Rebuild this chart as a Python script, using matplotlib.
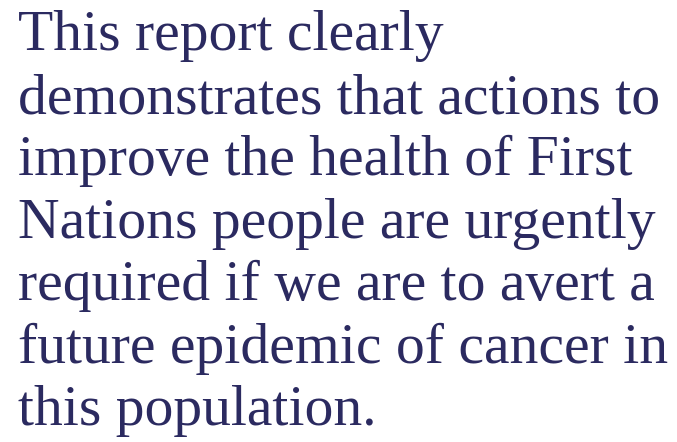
import matplotlib
matplotlib.use("Agg")
import matplotlib.pyplot as plt

lines = [
    "This report clearly",
    "demonstrates that actions to",
    "improve the health of First",
    "Nations people are urgently",
    "required if we are to avert a",
    "future epidemic of cancer in",
    "this population.",
]
baselines = [50, 113, 175, 238, 300, 363, 425]  # pixels from top

W, H = 677, 442
fig = plt.figure(figsize=(W / 100, H / 100), dpi=100)
fig.patch.set_facecolor("white")

for txt, yb in zip(lines, baselines):
    fig.text(18 / W, 1 - yb / H, txt, fontsize=41.5, family="Liberation Serif",
             color="#2b2a60", ha="left", va="baseline")

fig.savefig("out.png", dpi=100, facecolor="white")
